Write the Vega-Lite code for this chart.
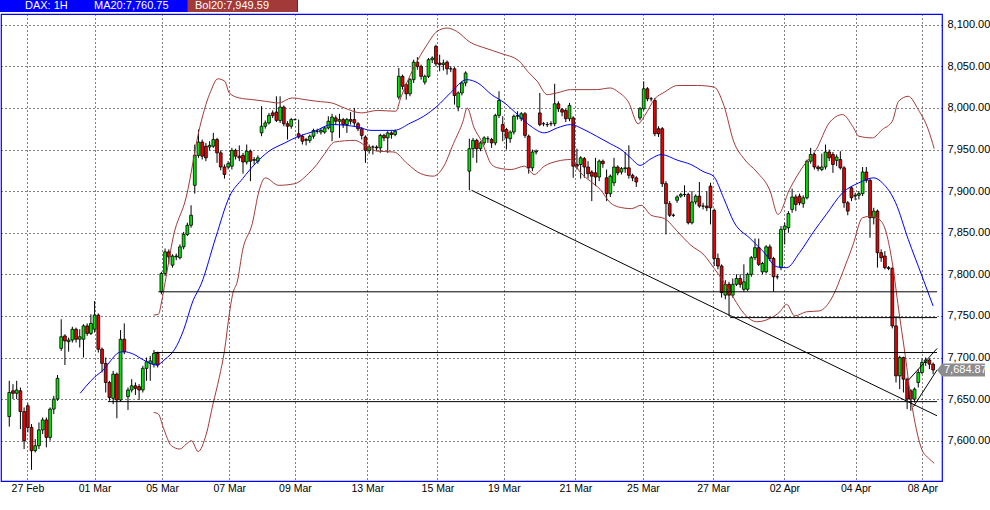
{
"$schema": "https://vega.github.io/schema/vega-lite/v6.json",
"width": 941, "height": 467,
"autosize": {"type": "none"},
"padding": {"left": 1, "top": 14, "right": 48, "bottom": 29},
"background": "white",
"config": {
 "view": {"stroke": "#0000ff", "strokeWidth": 1.2},
 "font": "Liberation Sans",
 "axis": {"grid": true, "gridColor": "#000000", "gridDash": [1, 3], "gridWidth": 1, "gridOpacity": 1, "domain": false, "ticks": false, "tickSize": 0, "labelColor": "#000000", "title": null},
 "legend": {"orient": "none", "legendX": -1, "legendY": -14, "direction": "horizontal", "columns": 3, "fillColor": "#0000ff", "padding": 0, "symbolType": "M0,0H0.1V0.1H0Z", "symbolSize": 4, "symbolStrokeWidth": 0, "labelColor": "#ffffff", "labelFont": "Liberation Sans", "labelFontSize": 11, "labelOffset": 14, "columnPadding": 1, "labelLimit": 200, "title": null}
},
"datasets": {
"cs": [
{"i":0,"o":7629,"h":7672,"l":7617,"c":7658},{"i":1,"o":7660,"h":7668,"l":7650,"c":7657},{"i":2,"o":7657,"h":7672,"l":7650,"c":7661},{"i":3,"o":7660,"h":7664,"l":7614,"c":7635},{"i":4,"o":7635,"h":7640,"l":7590,"c":7600},
{"i":5,"o":7642,"h":7645,"l":7610,"c":7616},{"i":6,"o":7616,"h":7620,"l":7565,"c":7588},{"i":7,"o":7588,"h":7602,"l":7586,"c":7594},{"i":8,"o":7594,"h":7622,"l":7590,"c":7613},{"i":9,"o":7613,"h":7628,"l":7608,"c":7625},
{"i":10,"o":7625,"h":7628,"l":7592,"c":7604},{"i":11,"o":7604,"h":7640,"l":7600,"c":7638},{"i":12,"o":7638,"h":7654,"l":7632,"c":7650},{"i":13,"o":7650,"h":7679,"l":7648,"c":7675},{"i":14,"o":7711,"h":7746,"l":7708,"c":7725},
{"i":15,"o":7726,"h":7728,"l":7691,"c":7720},{"i":16,"o":7719,"h":7724,"l":7707,"c":7721},{"i":17,"o":7721,"h":7737,"l":7718,"c":7734},{"i":18,"o":7734,"h":7736,"l":7718,"c":7722},{"i":19,"o":7722,"h":7734,"l":7712,"c":7725},
{"i":20,"o":7722,"h":7740,"l":7700,"c":7738},{"i":21,"o":7738,"h":7741,"l":7726,"c":7729},{"i":22,"o":7729,"h":7752,"l":7727,"c":7741},{"i":23,"o":7734,"h":7768,"l":7730,"c":7751},{"i":24,"o":7751,"h":7753,"l":7706,"c":7710},
{"i":25,"o":7710,"h":7712,"l":7682,"c":7693},{"i":26,"o":7693,"h":7700,"l":7658,"c":7670},{"i":27,"o":7670,"h":7672,"l":7648,"c":7652},{"i":28,"o":7651,"h":7684,"l":7644,"c":7680},{"i":29,"o":7680,"h":7682,"l":7627,"c":7649},
{"i":30,"o":7649,"h":7733,"l":7647,"c":7722},{"i":31,"o":7722,"h":7741,"l":7704,"c":7707},{"i":32,"o":7653,"h":7664,"l":7637,"c":7661},{"i":33,"o":7661,"h":7674,"l":7658,"c":7666},{"i":34,"o":7666,"h":7670,"l":7655,"c":7663},
{"i":35,"o":7665,"h":7668,"l":7649,"c":7661},{"i":36,"o":7661,"h":7690,"l":7658,"c":7687},{"i":37,"o":7687,"h":7700,"l":7672,"c":7695},{"i":38,"o":7693,"h":7702,"l":7672,"c":7696},{"i":39,"o":7692,"h":7709,"l":7688,"c":7705},
{"i":40,"o":7705,"h":7707,"l":7688,"c":7691},{"i":41,"o":7779,"h":7803,"l":7776,"c":7801},{"i":42,"o":7801,"h":7831,"l":7798,"c":7827},{"i":43,"o":7827,"h":7830,"l":7812,"c":7821},{"i":44,"o":7811,"h":7824,"l":7808,"c":7822},
{"i":45,"o":7821,"h":7825,"l":7817,"c":7822},{"i":46,"o":7820,"h":7836,"l":7818,"c":7833},{"i":47,"o":7833,"h":7851,"l":7830,"c":7848},{"i":48,"o":7848,"h":7862,"l":7846,"c":7859},{"i":49,"o":7859,"h":7883,"l":7856,"c":7871},
{"i":50,"o":7907,"h":7956,"l":7897,"c":7943},{"i":51,"o":7943,"h":7974,"l":7940,"c":7959},{"i":52,"o":7959,"h":7962,"l":7938,"c":7942},{"i":53,"o":7954,"h":7958,"l":7936,"c":7940},{"i":54,"o":7953,"h":7960,"l":7949,"c":7955},
{"i":55,"o":7954,"h":7970,"l":7952,"c":7962},{"i":56,"o":7962,"h":7964,"l":7934,"c":7946},{"i":57,"o":7946,"h":7949,"l":7925,"c":7929},{"i":58,"o":7929,"h":7932,"l":7915,"c":7920},{"i":59,"o":7929,"h":7936,"l":7926,"c":7933},
{"i":60,"o":7930,"h":7952,"l":7926,"c":7949},{"i":61,"o":7949,"h":7951,"l":7938,"c":7942},{"i":62,"o":7942,"h":7955,"l":7936,"c":7940},{"i":63,"o":7943,"h":7946,"l":7921,"c":7935},{"i":64,"o":7935,"h":7956,"l":7932,"c":7948},
{"i":65,"o":7948,"h":7950,"l":7912,"c":7936},{"i":66,"o":7937,"h":7941,"l":7932,"c":7938},{"i":67,"o":7936,"h":7943,"l":7933,"c":7940},{"i":68,"o":7970,"h":8002,"l":7966,"c":7978},{"i":69,"o":7978,"h":7985,"l":7975,"c":7982},
{"i":70,"o":7982,"h":7994,"l":7980,"c":7991},{"i":71,"o":7994,"h":7997,"l":7988,"c":7991},{"i":72,"o":7995,"h":8014,"l":7983,"c":7985},{"i":73,"o":7985,"h":8014,"l":7982,"c":8001},{"i":74,"o":8001,"h":8003,"l":7978,"c":7981},
{"i":75,"o":7981,"h":7984,"l":7962,"c":7978},{"i":76,"o":7978,"h":7988,"l":7975,"c":7986},{"i":77,"o":7986,"h":7987,"l":7985,"c":7986},{"i":78,"o":7969,"h":7986,"l":7963,"c":7965},{"i":79,"o":7966,"h":7968,"l":7956,"c":7960},
{"i":80,"o":7961,"h":7964,"l":7955,"c":7962},{"i":81,"o":7961,"h":7968,"l":7958,"c":7966},{"i":82,"o":7966,"h":7975,"l":7963,"c":7973},{"i":83,"o":7972,"h":7975,"l":7969,"c":7972},{"i":84,"o":7971,"h":7976,"l":7968,"c":7973},
{"i":85,"o":7971,"h":7978,"l":7969,"c":7976},{"i":86,"o":7976,"h":7990,"l":7974,"c":7984},{"i":87,"o":7971,"h":7993,"l":7960,"c":7989},{"i":88,"o":7988,"h":7991,"l":7980,"c":7984},{"i":89,"o":7984,"h":7993,"l":7964,"c":7986},
{"i":90,"o":7986,"h":7988,"l":7976,"c":7980},{"i":91,"o":7980,"h":7988,"l":7970,"c":7986},{"i":92,"o":7986,"h":7995,"l":7980,"c":7984},{"i":93,"o":7986,"h":8000,"l":7978,"c":7982},{"i":94,"o":7981,"h":7983,"l":7972,"c":7975},
{"i":95,"o":7975,"h":7977,"l":7962,"c":7967},{"i":96,"o":7965,"h":7967,"l":7934,"c":7949},{"i":97,"o":7949,"h":7956,"l":7945,"c":7953},{"i":98,"o":7953,"h":7955,"l":7944,"c":7953},{"i":99,"o":7953,"h":7955,"l":7948,"c":7952},
{"i":100,"o":7952,"h":7969,"l":7946,"c":7967},{"i":101,"o":7967,"h":7969,"l":7960,"c":7964},{"i":102,"o":7964,"h":7972,"l":7946,"c":7970},{"i":103,"o":7970,"h":7972,"l":7963,"c":7968},{"i":104,"o":7968,"h":7974,"l":7966,"c":7972},
{"i":105,"o":8013,"h":8048,"l":8010,"c":8038},{"i":106,"o":8038,"h":8040,"l":8022,"c":8026},{"i":107,"o":8028,"h":8030,"l":8010,"c":8017},{"i":108,"o":8017,"h":8036,"l":8014,"c":8034},{"i":109,"o":8034,"h":8058,"l":8030,"c":8055},
{"i":110,"o":8055,"h":8061,"l":8046,"c":8050},{"i":111,"o":8050,"h":8052,"l":8034,"c":8038},{"i":112,"o":8031,"h":8040,"l":8028,"c":8038},{"i":113,"o":8038,"h":8060,"l":8036,"c":8058},{"i":114,"o":8058,"h":8062,"l":8054,"c":8060},
{"i":115,"o":8074,"h":8076,"l":8050,"c":8053},{"i":116,"o":8054,"h":8064,"l":8044,"c":8052},{"i":117,"o":8052,"h":8058,"l":8045,"c":8054},{"i":118,"o":8055,"h":8057,"l":8040,"c":8047},{"i":119,"o":8047,"h":8050,"l":8043,"c":8047},
{"i":120,"o":8047,"h":8049,"l":8004,"c":8015},{"i":121,"o":8001,"h":8020,"l":7996,"c":8018},{"i":122,"o":8018,"h":8032,"l":8015,"c":8030},{"i":123,"o":8030,"h":8044,"l":8026,"c":8042},{"i":124,"o":7924,"h":7963,"l":7901,"c":7951},
{"i":125,"o":7951,"h":7964,"l":7940,"c":7961},{"i":126,"o":7961,"h":7963,"l":7934,"c":7951},{"i":127,"o":7951,"h":7960,"l":7948,"c":7958},{"i":128,"o":7958,"h":7966,"l":7955,"c":7964},{"i":129,"o":7963,"h":7966,"l":7958,"c":7963},
{"i":130,"o":7962,"h":7964,"l":7952,"c":7958},{"i":131,"o":7958,"h":7993,"l":7955,"c":7991},{"i":132,"o":7991,"h":8020,"l":7988,"c":8009},{"i":133,"o":7980,"h":7990,"l":7960,"c":7972},{"i":134,"o":7974,"h":7976,"l":7950,"c":7964},
{"i":135,"o":7963,"h":7973,"l":7958,"c":7971},{"i":136,"o":7971,"h":7992,"l":7968,"c":7990},{"i":137,"o":7990,"h":7996,"l":7986,"c":7991},{"i":138,"o":7987,"h":7995,"l":7984,"c":7993},{"i":139,"o":7993,"h":7995,"l":7964,"c":7967},
{"i":140,"o":7966,"h":7968,"l":7921,"c":7928},{"i":141,"o":7928,"h":7950,"l":7924,"c":7947},{"i":142,"o":7947,"h":7950,"l":7944,"c":7948},{"i":143,"o":7994,"h":8018,"l":7978,"c":7980},{"i":144,"o":7981,"h":7983,"l":7978,"c":7981},
{"i":145,"o":7980,"h":7983,"l":7977,"c":7980},{"i":146,"o":7981,"h":7984,"l":7978,"c":7981},{"i":147,"o":7981,"h":8029,"l":7978,"c":8005},{"i":148,"o":8005,"h":8008,"l":7995,"c":7999},{"i":149,"o":7998,"h":8000,"l":7990,"c":7995},
{"i":150,"o":7997,"h":7999,"l":7983,"c":7987},{"i":151,"o":7987,"h":8006,"l":7984,"c":8003},{"i":152,"o":7988,"h":7990,"l":7916,"c":7930},{"i":153,"o":7932,"h":7951,"l":7926,"c":7930},{"i":154,"o":7932,"h":7942,"l":7915,"c":7940},
{"i":155,"o":7939,"h":7941,"l":7916,"c":7929},{"i":156,"o":7929,"h":7936,"l":7915,"c":7921},{"i":157,"o":7923,"h":7925,"l":7888,"c":7918},{"i":158,"o":7922,"h":7940,"l":7906,"c":7917},{"i":159,"o":7917,"h":7938,"l":7912,"c":7936},
{"i":160,"o":7936,"h":7938,"l":7928,"c":7933},{"i":161,"o":7916,"h":7926,"l":7888,"c":7897},{"i":162,"o":7897,"h":7920,"l":7893,"c":7918},{"i":163,"o":7910,"h":7940,"l":7906,"c":7929},{"i":164,"o":7929,"h":7931,"l":7919,"c":7922},
{"i":165,"o":7923,"h":7929,"l":7920,"c":7927},{"i":166,"o":7927,"h":7947,"l":7922,"c":7928},{"i":167,"o":7928,"h":7955,"l":7915,"c":7919},{"i":168,"o":7919,"h":7921,"l":7912,"c":7916},{"i":169,"o":7916,"h":7918,"l":7905,"c":7911},
{"i":170,"o":7988,"h":8001,"l":7985,"c":7999},{"i":171,"o":7999,"h":8032,"l":7997,"c":8023},{"i":172,"o":8023,"h":8025,"l":8008,"c":8011},{"i":173,"o":8011,"h":8013,"l":8008,"c":8011},{"i":174,"o":8009,"h":8012,"l":7966,"c":7969},
{"i":175,"o":7975,"h":7978,"l":7965,"c":7969},{"i":176,"o":7975,"h":7977,"l":7905,"c":7909},{"i":177,"o":7909,"h":7912,"l":7848,"c":7885},{"i":178,"o":7885,"h":7888,"l":7869,"c":7871},{"i":179,"o":7871,"h":7873,"l":7869,"c":7871},
{"i":180,"o":7889,"h":7895,"l":7886,"c":7893},{"i":181,"o":7894,"h":7898,"l":7892,"c":7896},{"i":182,"o":7896,"h":7907,"l":7893,"c":7896},{"i":183,"o":7896,"h":7898,"l":7860,"c":7862},{"i":184,"o":7862,"h":7900,"l":7860,"c":7887},
{"i":185,"o":7887,"h":7896,"l":7884,"c":7894},{"i":186,"o":7894,"h":7911,"l":7880,"c":7882},{"i":187,"o":7882,"h":7886,"l":7878,"c":7882},{"i":188,"o":7882,"h":7900,"l":7876,"c":7880},{"i":189,"o":7906,"h":7910,"l":7860,"c":7880},
{"i":190,"o":7877,"h":7879,"l":7810,"c":7819},{"i":191,"o":7819,"h":7825,"l":7806,"c":7810},{"i":192,"o":7810,"h":7812,"l":7772,"c":7778},{"i":193,"o":7775,"h":7793,"l":7770,"c":7788},{"i":194,"o":7788,"h":7791,"l":7750,"c":7775},
{"i":195,"o":7775,"h":7795,"l":7772,"c":7788},{"i":196,"o":7788,"h":7800,"l":7786,"c":7795},{"i":197,"o":7795,"h":7800,"l":7784,"c":7788},{"i":198,"o":7782,"h":7812,"l":7779,"c":7791},{"i":199,"o":7782,"h":7802,"l":7780,"c":7800},
{"i":200,"o":7800,"h":7822,"l":7797,"c":7820},{"i":201,"o":7820,"h":7843,"l":7817,"c":7832},{"i":202,"o":7832,"h":7843,"l":7810,"c":7812},{"i":203,"o":7803,"h":7815,"l":7800,"c":7813},{"i":204,"o":7803,"h":7835,"l":7801,"c":7833},
{"i":205,"o":7833,"h":7836,"l":7816,"c":7819},{"i":206,"o":7819,"h":7821,"l":7779,"c":7797},{"i":207,"o":7797,"h":7800,"l":7794,"c":7797},{"i":208,"o":7808,"h":7858,"l":7805,"c":7854},{"i":209,"o":7854,"h":7862,"l":7836,"c":7858},
{"i":210,"o":7856,"h":7876,"l":7850,"c":7873},{"i":211,"o":7878,"h":7903,"l":7874,"c":7893},{"i":212,"o":7893,"h":7896,"l":7876,"c":7884},{"i":213,"o":7894,"h":7897,"l":7883,"c":7886},{"i":214,"o":7885,"h":7895,"l":7880,"c":7892},
{"i":215,"o":7892,"h":7938,"l":7890,"c":7936},{"i":216,"o":7936,"h":7952,"l":7933,"c":7944},{"i":217,"o":7944,"h":7946,"l":7926,"c":7929},{"i":218,"o":7929,"h":7931,"l":7924,"c":7927},{"i":219,"o":7926,"h":7945,"l":7924,"c":7929},
{"i":220,"o":7929,"h":7956,"l":7926,"c":7947},{"i":221,"o":7947,"h":7950,"l":7936,"c":7940},{"i":222,"o":7944,"h":7947,"l":7922,"c":7932},{"i":223,"o":7937,"h":7944,"l":7930,"c":7941},{"i":224,"o":7938,"h":7948,"l":7926,"c":7928},
{"i":225,"o":7928,"h":7930,"l":7880,"c":7886},{"i":226,"o":7886,"h":7888,"l":7871,"c":7876},{"i":227,"o":7904,"h":7906,"l":7888,"c":7892},{"i":228,"o":7894,"h":7898,"l":7889,"c":7895},{"i":229,"o":7895,"h":7900,"l":7890,"c":7897},
{"i":230,"o":7897,"h":7929,"l":7894,"c":7923},{"i":231,"o":7923,"h":7929,"l":7910,"c":7913},{"i":232,"o":7913,"h":7915,"l":7844,"c":7868},{"i":233,"o":7868,"h":7880,"l":7860,"c":7876},{"i":234,"o":7876,"h":7878,"l":7808,"c":7826},
{"i":235,"o":7826,"h":7830,"l":7815,"c":7820},{"i":236,"o":7822,"h":7828,"l":7806,"c":7808},{"i":237,"o":7808,"h":7810,"l":7805,"c":7807},{"i":238,"o":7807,"h":7809,"l":7735,"c":7738},{"i":239,"o":7738,"h":7750,"l":7670,"c":7678},
{"i":240,"o":7678,"h":7702,"l":7662,"c":7700},{"i":241,"o":7700,"h":7701,"l":7658,"c":7674},{"i":242,"o":7674,"h":7676,"l":7638,"c":7650},{"i":243,"o":7660,"h":7662,"l":7636,"c":7650},{"i":244,"o":7650,"h":7664,"l":7646,"c":7662},
{"i":245,"o":7670,"h":7686,"l":7664,"c":7682},{"i":246,"o":7682,"h":7698,"l":7680,"c":7694},{"i":247,"o":7694,"h":7700,"l":7690,"c":7697},{"i":248,"o":7697,"h":7699,"l":7686,"c":7692},{"i":249,"o":7692,"h":7694,"l":7680,"c":7685}
],
"ind": [
{"s":"MA20","k":"m","i":19.1,"v":7657},{"s":"MA20","k":"m","i":22.0,"v":7672},{"s":"MA20","k":"m","i":22.9,"v":7676},{"s":"MA20","k":"m","i":25.5,"v":7686},{"s":"MA20","k":"m","i":27.3,"v":7696},{"s":"MA20","k":"m","i":29.5,"v":7706},{"s":"MA20","k":"m","i":30.9,"v":7707},{"s":"MA20","k":"m","i":33.5,"v":7704},{"s":"MA20","k":"m","i":36.2,"v":7697},{"s":"MA20","k":"m","i":39.7,"v":7691},
{"s":"MA20","k":"m","i":42.0,"v":7698},{"s":"MA20","k":"m","i":44.6,"v":7710},{"s":"MA20","k":"m","i":46.9,"v":7732},{"s":"MA20","k":"m","i":49.5,"v":7768},{"s":"MA20","k":"m","i":51.7,"v":7788},{"s":"MA20","k":"m","i":55.7,"v":7845},{"s":"MA20","k":"m","i":59.3,"v":7893},{"s":"MA20","k":"m","i":62.9,"v":7915},{"s":"MA20","k":"m","i":66.3,"v":7933},{"s":"MA20","k":"m","i":70.0,"v":7948},
{"s":"MA20","k":"m","i":74.3,"v":7958},{"s":"MA20","k":"m","i":78.0,"v":7966},{"s":"MA20","k":"m","i":82.3,"v":7972},{"s":"MA20","k":"m","i":86.9,"v":7980},{"s":"MA20","k":"m","i":94.0,"v":7977},{"s":"MA20","k":"m","i":97.5,"v":7973},{"s":"MA20","k":"m","i":103.7,"v":7973},{"s":"MA20","k":"m","i":108.2,"v":7982},{"s":"MA20","k":"m","i":111.7,"v":7990},{"s":"MA20","k":"m","i":115.3,"v":8002},
{"s":"MA20","k":"m","i":118.9,"v":8018},{"s":"MA20","k":"m","i":123.3,"v":8034},{"s":"MA20","k":"m","i":126.3,"v":8030},{"s":"MA20","k":"m","i":130.0,"v":8016},{"s":"MA20","k":"m","i":133.5,"v":8006},{"s":"MA20","k":"m","i":137.0,"v":7992},{"s":"MA20","k":"m","i":140.6,"v":7978},{"s":"MA20","k":"m","i":144.2,"v":7970},{"s":"MA20","k":"m","i":147.7,"v":7976},{"s":"MA20","k":"m","i":151.3,"v":7980},
{"s":"MA20","k":"m","i":154.9,"v":7974},{"s":"MA20","k":"m","i":158.3,"v":7966},{"s":"MA20","k":"m","i":162.0,"v":7957},{"s":"MA20","k":"m","i":165.5,"v":7948},{"s":"MA20","k":"m","i":167.7,"v":7939},{"s":"MA20","k":"m","i":170.0,"v":7931},{"s":"MA20","k":"m","i":173.0,"v":7939},{"s":"MA20","k":"m","i":175.7,"v":7944},{"s":"MA20","k":"m","i":180.2,"v":7937},{"s":"MA20","k":"m","i":183.7,"v":7932},
{"s":"MA20","k":"m","i":187.3,"v":7923},{"s":"MA20","k":"m","i":189.8,"v":7918},{"s":"MA20","k":"m","i":192.6,"v":7891},{"s":"MA20","k":"m","i":195.3,"v":7863},{"s":"MA20","k":"m","i":199.7,"v":7843},{"s":"MA20","k":"m","i":203.3,"v":7827},{"s":"MA20","k":"m","i":206.9,"v":7809},{"s":"MA20","k":"m","i":209.5,"v":7808},{"s":"MA20","k":"m","i":213.0,"v":7826},{"s":"MA20","k":"m","i":216.6,"v":7850},
{"s":"MA20","k":"m","i":220.2,"v":7872},{"s":"MA20","k":"m","i":224.6,"v":7898},{"s":"MA20","k":"m","i":229.0,"v":7910},{"s":"MA20","k":"m","i":233.0,"v":7916},{"s":"MA20","k":"m","i":235.3,"v":7910},{"s":"MA20","k":"m","i":238.9,"v":7886},{"s":"MA20","k":"m","i":242.3,"v":7842},{"s":"MA20","k":"m","i":246.0,"v":7798},{"s":"MA20","k":"m","i":249.0,"v":7762},
{"s":"Bol20","k":"u","i":38.9,"v":7751},{"s":"Bol20","k":"u","i":40.2,"v":7752},{"s":"Bol20","k":"u","i":41.1,"v":7768},{"s":"Bol20","k":"u","i":42.0,"v":7790},{"s":"Bol20","k":"u","i":44.2,"v":7845},{"s":"Bol20","k":"u","i":47.7,"v":7893},{"s":"Bol20","k":"u","i":51.3,"v":7976},{"s":"Bol20","k":"u","i":53.0,"v":8004},{"s":"Bol20","k":"u","i":54.3,"v":8020},{"s":"Bol20","k":"u","i":56.2,"v":8035},
{"s":"Bol20","k":"u","i":58.1,"v":8032},{"s":"Bol20","k":"u","i":59.3,"v":8018},{"s":"Bol20","k":"u","i":62.0,"v":8012},{"s":"Bol20","k":"u","i":65.5,"v":8010},{"s":"Bol20","k":"u","i":69.0,"v":8008},{"s":"Bol20","k":"u","i":72.6,"v":8006},{"s":"Bol20","k":"u","i":76.2,"v":8012},{"s":"Bol20","k":"u","i":79.7,"v":8010},{"s":"Bol20","k":"u","i":82.9,"v":8008},{"s":"Bol20","k":"u","i":86.9,"v":8006},
{"s":"Bol20","k":"u","i":90.3,"v":8000},{"s":"Bol20","k":"u","i":94.9,"v":7994},{"s":"Bol20","k":"u","i":99.3,"v":7997},{"s":"Bol20","k":"u","i":104.2,"v":7996},{"s":"Bol20","k":"u","i":105.5,"v":8012},{"s":"Bol20","k":"u","i":109.0,"v":8048},{"s":"Bol20","k":"u","i":112.6,"v":8076},{"s":"Bol20","k":"u","i":115.3,"v":8092},{"s":"Bol20","k":"u","i":118.0,"v":8096},{"s":"Bol20","k":"u","i":120.6,"v":8092},
{"s":"Bol20","k":"u","i":124.2,"v":8079},{"s":"Bol20","k":"u","i":128.2,"v":8072},{"s":"Bol20","k":"u","i":132.2,"v":8066},{"s":"Bol20","k":"u","i":137.5,"v":8056},{"s":"Bol20","k":"u","i":139.7,"v":8044},{"s":"Bol20","k":"u","i":142.3,"v":8032},{"s":"Bol20","k":"u","i":145.0,"v":8016},{"s":"Bol20","k":"u","i":147.6,"v":8018},{"s":"Bol20","k":"u","i":151.3,"v":8022},{"s":"Bol20","k":"u","i":154.9,"v":8022},
{"s":"Bol20","k":"u","i":158.3,"v":8022},{"s":"Bol20","k":"u","i":162.0,"v":8024},{"s":"Bol20","k":"u","i":164.2,"v":8019},{"s":"Bol20","k":"u","i":166.9,"v":8007},{"s":"Bol20","k":"u","i":169.5,"v":7981},{"s":"Bol20","k":"u","i":171.3,"v":7991},{"s":"Bol20","k":"u","i":174.0,"v":8011},{"s":"Bol20","k":"u","i":176.6,"v":8019},{"s":"Bol20","k":"u","i":180.2,"v":8027},{"s":"Bol20","k":"u","i":185.5,"v":8027},
{"s":"Bol20","k":"u","i":190.0,"v":8025},{"s":"Bol20","k":"u","i":192.6,"v":8003},{"s":"Bol20","k":"u","i":195.3,"v":7959},{"s":"Bol20","k":"u","i":198.0,"v":7939},{"s":"Bol20","k":"u","i":201.5,"v":7923},{"s":"Bol20","k":"u","i":205.0,"v":7901},{"s":"Bol20","k":"u","i":207.2,"v":7872},{"s":"Bol20","k":"u","i":210.3,"v":7902},{"s":"Bol20","k":"u","i":214.0,"v":7930},{"s":"Bol20","k":"u","i":217.5,"v":7950},
{"s":"Bol20","k":"u","i":221.0,"v":7982},{"s":"Bol20","k":"u","i":224.6,"v":7992},{"s":"Bol20","k":"u","i":227.3,"v":7978},{"s":"Bol20","k":"u","i":229.0,"v":7966},{"s":"Bol20","k":"u","i":232.6,"v":7964},{"s":"Bol20","k":"u","i":235.3,"v":7974},{"s":"Bol20","k":"u","i":238.0,"v":7984},{"s":"Bol20","k":"u","i":239.7,"v":8008},{"s":"Bol20","k":"u","i":242.3,"v":8014},{"s":"Bol20","k":"u","i":245.0,"v":7998},
{"s":"Bol20","k":"u","i":247.7,"v":7974},{"s":"Bol20","k":"u","i":249.3,"v":7951},
{"s":"Bol20","k":"d","i":38.9,"v":7634},{"s":"Bol20","k":"d","i":40.2,"v":7632},{"s":"Bol20","k":"d","i":41.5,"v":7616},{"s":"Bol20","k":"d","i":43.7,"v":7594},{"s":"Bol20","k":"d","i":46.0,"v":7590},{"s":"Bol20","k":"d","i":47.7,"v":7596},{"s":"Bol20","k":"d","i":49.1,"v":7600},{"s":"Bol20","k":"d","i":50.9,"v":7587},{"s":"Bol20","k":"d","i":53.1,"v":7608},{"s":"Bol20","k":"d","i":54.9,"v":7644},
{"s":"Bol20","k":"d","i":56.6,"v":7676},{"s":"Bol20","k":"d","i":58.0,"v":7708},{"s":"Bol20","k":"d","i":59.3,"v":7752},{"s":"Bol20","k":"d","i":60.2,"v":7776},{"s":"Bol20","k":"d","i":61.5,"v":7792},{"s":"Bol20","k":"d","i":62.9,"v":7829},{"s":"Bol20","k":"d","i":65.5,"v":7861},{"s":"Bol20","k":"d","i":67.3,"v":7900},{"s":"Bol20","k":"d","i":69.0,"v":7916},{"s":"Bol20","k":"d","i":72.6,"v":7907},
{"s":"Bol20","k":"d","i":77.0,"v":7909},{"s":"Bol20","k":"d","i":80.6,"v":7921},{"s":"Bol20","k":"d","i":82.9,"v":7932},{"s":"Bol20","k":"d","i":85.0,"v":7945},{"s":"Bol20","k":"d","i":87.7,"v":7959},{"s":"Bol20","k":"d","i":93.0,"v":7961},{"s":"Bol20","k":"d","i":96.6,"v":7953},{"s":"Bol20","k":"d","i":99.3,"v":7948},{"s":"Bol20","k":"d","i":103.7,"v":7947},{"s":"Bol20","k":"d","i":107.3,"v":7933},
{"s":"Bol20","k":"d","i":110.9,"v":7921},{"s":"Bol20","k":"d","i":114.3,"v":7918},{"s":"Bol20","k":"d","i":117.0,"v":7929},{"s":"Bol20","k":"d","i":119.7,"v":7957},{"s":"Bol20","k":"d","i":122.3,"v":7984},{"s":"Bol20","k":"d","i":123.4,"v":8000},{"s":"Bol20","k":"d","i":125.3,"v":7976},{"s":"Bol20","k":"d","i":127.3,"v":7960},{"s":"Bol20","k":"d","i":130.0,"v":7932},{"s":"Bol20","k":"d","i":131.7,"v":7928},
{"s":"Bol20","k":"d","i":135.3,"v":7926},{"s":"Bol20","k":"d","i":138.9,"v":7930},{"s":"Bol20","k":"d","i":141.5,"v":7920},{"s":"Bol20","k":"d","i":144.2,"v":7930},{"s":"Bol20","k":"d","i":147.7,"v":7936},{"s":"Bol20","k":"d","i":151.3,"v":7938},{"s":"Bol20","k":"d","i":154.0,"v":7922},{"s":"Bol20","k":"d","i":156.6,"v":7912},{"s":"Bol20","k":"d","i":159.3,"v":7902},{"s":"Bol20","k":"d","i":162.0,"v":7886},
{"s":"Bol20","k":"d","i":164.2,"v":7881},{"s":"Bol20","k":"d","i":167.7,"v":7879},{"s":"Bol20","k":"d","i":170.3,"v":7883},{"s":"Bol20","k":"d","i":173.0,"v":7871},{"s":"Bol20","k":"d","i":176.6,"v":7867},{"s":"Bol20","k":"d","i":180.2,"v":7851},{"s":"Bol20","k":"d","i":183.7,"v":7835},{"s":"Bol20","k":"d","i":187.3,"v":7823},{"s":"Bol20","k":"d","i":190.0,"v":7807},{"s":"Bol20","k":"d","i":192.6,"v":7791},
{"s":"Bol20","k":"d","i":195.3,"v":7771},{"s":"Bol20","k":"d","i":198.0,"v":7753},{"s":"Bol20","k":"d","i":201.5,"v":7743},{"s":"Bol20","k":"d","i":205.0,"v":7747},{"s":"Bol20","k":"d","i":207.7,"v":7755},{"s":"Bol20","k":"d","i":209.5,"v":7764},{"s":"Bol20","k":"d","i":211.7,"v":7750},{"s":"Bol20","k":"d","i":214.9,"v":7755},{"s":"Bol20","k":"d","i":218.3,"v":7756},{"s":"Bol20","k":"d","i":222.0,"v":7774},
{"s":"Bol20","k":"d","i":224.6,"v":7802},{"s":"Bol20","k":"d","i":227.3,"v":7834},{"s":"Bol20","k":"d","i":230.0,"v":7868},{"s":"Bol20","k":"d","i":232.6,"v":7870},{"s":"Bol20","k":"d","i":235.3,"v":7862},{"s":"Bol20","k":"d","i":238.0,"v":7814},{"s":"Bol20","k":"d","i":239.7,"v":7758},{"s":"Bol20","k":"d","i":241.5,"v":7702},{"s":"Bol20","k":"d","i":243.1,"v":7648},{"s":"Bol20","k":"d","i":244.2,"v":7620},
{"s":"Bol20","k":"d","i":246.0,"v":7589},{"s":"Bol20","k":"d","i":247.8,"v":7579},{"s":"Bol20","k":"d","i":249.3,"v":7573}
],
"ln": [
{"x1":40.2,"x2":250.05,"p1":7779,"p2":7779},
{"x1":194.3,"x2":250.05,"p1":7748,"p2":7748},
{"x1":39.1,"x2":250.05,"p1":7706,"p2":7706},
{"x1":26.6,"x2":250.05,"p1":7647,"p2":7647},
{"x1":124.6,"x2":250.05,"p1":7901,"p2":7630},
{"x1":242.4,"x2":250.1,"p1":7673,"p2":7711},
{"x1":243.7,"x2":250.05,"p1":7641,"p2":7685}
]
},
"layer": [
{"data": {"name": "cs"}, "mark": {"type": "rule", "color": "#000000", "strokeWidth": 1},
 "encoding": {
  "x": {"field": "i", "type": "quantitative", "title": null, "scale": {"domain": [-0.88, 250.05], "nice": false, "zero": false},
        "axis": {"values": [4.9, 23.0, 41.2, 59.3, 77.0, 96.5, 115.4, 133.3, 152.6, 170.8, 189.7, 208.9, 228.1, 246.1],
                 "labelExpr": "['27 Feb','01 Mar','05 Mar','07 Mar','09 Mar','13 Mar','15 Mar','19 Mar','21 Mar','25 Mar','27 Mar','02 Apr','04 Apr','08 Apr'][indexof([4.9,23.0,41.2,59.3,77.0,96.5,115.4,133.3,152.6,170.8,189.7,208.9,228.1,246.1], datum.value)]",
                 "labelFontSize": 10.5, "labelPadding": 2, "labelFlush": false, "labelOverlap": false, "labelBound": false}},
  "y": {"field": "l", "type": "quantitative", "title": null, "scale": {"domain": [7551.6, 8112.9], "nice": false, "zero": false},
        "axis": {"orient": "right", "values": [7600, 7650, 7700, 7750, 7800, 7850, 7900, 7950, 8000, 8050, 8100], "format": ",.2f", "labelFontSize": 11, "labelPadding": 5, "labelAlign": "left", "labelBaseline": "middle"}},
  "y2": {"field": "h"}
 }},
{"data": {"name": "cs"}, "mark": {"type": "bar", "size": 2.8, "stroke": "#000000", "strokeWidth": 0.8},
 "encoding": {
  "x": {"field": "i", "type": "quantitative", "title": null},
  "y": {"field": "o", "type": "quantitative", "title": null},
  "y2": {"field": "c"},
  "fill": {"condition": {"test": "datum.c >= datum.o", "value": "#00e600"}, "value": "#ee0000"}
 }},
{"data": {"name": "ind"}, "mark": {"type": "line", "strokeWidth": 1, "interpolate": "monotone", "clip": true},
 "encoding": {
  "x": {"field": "i", "type": "quantitative", "title": null},
  "y": {"field": "v", "type": "quantitative", "title": null},
  "color": {"field": "s", "type": "nominal", "scale": {"domain": ["DAX", "MA20", "Bol20"], "range": ["#0000ff", "#0000ff", "#a33a3a"]},
            "legend": {"labelExpr": "datum.label == 'MA20' ? 'MA20:7,760.75' : datum.label == 'Bol20' ? 'Bol20:7,949.59' : 'DAX: 1H'",
                       "encode": {"symbols": {"update": {"fill": {"scale": "color", "field": "value"}, "stroke": {"value": "transparent"}, "opacity": {"value": 1},
                                                           "shape": [{"test": "datum.value === 'Bol20'", "value": "M12,-6.5H122V6.5H12Z"}, {"value": "M0,0H0.1V0.1H0Z"}]}}}}},
  "detail": {"field": "k"}
 }},
{"data": {"name": "ln"}, "mark": {"type": "rule", "color": "#000000", "strokeWidth": 1, "clip": true},
 "encoding": {
  "x": {"field": "x1", "type": "quantitative", "title": null},
  "x2": {"field": "x2"},
  "y": {"field": "p1", "type": "quantitative", "title": null},
  "y2": {"field": "p2"}
 }},
{"data": {"values": [{"last": 7684.87}]}, "mark": {"type": "point", "shape": "M0,0L5,-6.5H48V6.5H5Z", "size": 4, "filled": true, "color": "#8c8c8c", "opacity": 1},
 "encoding": {
  "x": {"datum": 250.05, "type": "quantitative", "title": null},
  "y": {"field": "last", "type": "quantitative", "title": null}
 }},
{"data": {"values": [{"last": 7684.87}]}, "mark": {"type": "text", "align": "left", "baseline": "middle", "dx": 7, "fontSize": 11, "color": "#ffffff"},
 "encoding": {
  "x": {"datum": 250.05, "type": "quantitative", "title": null},
  "y": {"field": "last", "type": "quantitative", "title": null},
  "text": {"field": "last", "type": "quantitative", "format": ",.2f"}
 }}
]
}
